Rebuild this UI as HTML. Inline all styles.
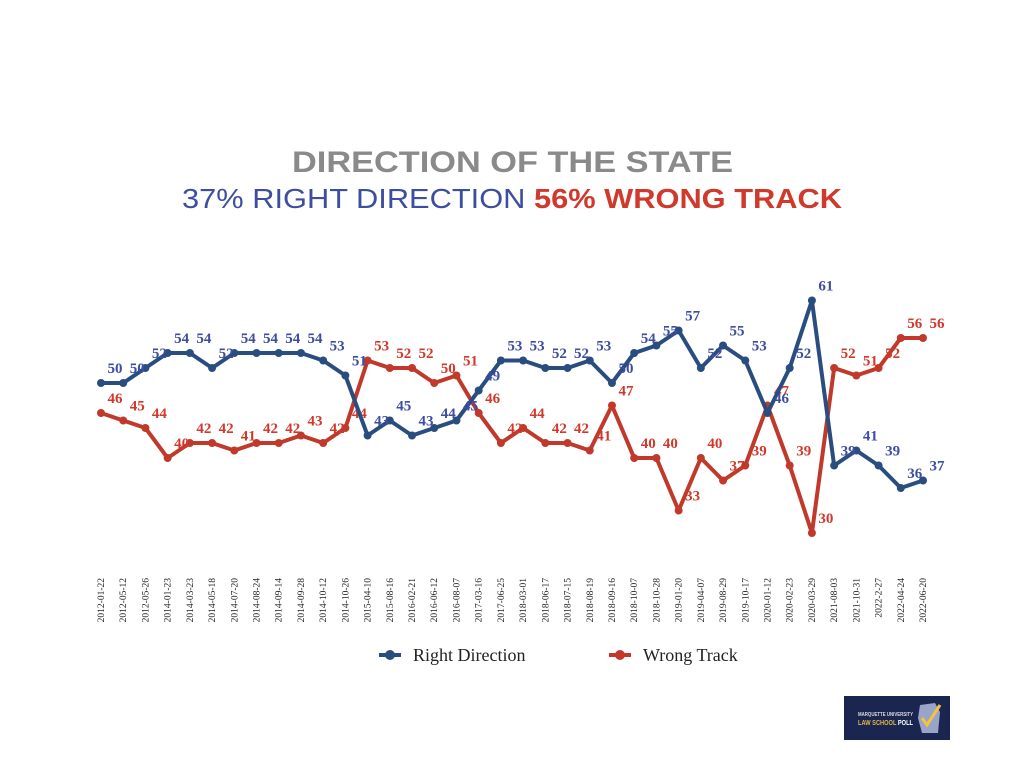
<!DOCTYPE html>
<html><head><meta charset="utf-8"><style>
body{margin:0;background:#fff;}
svg{display:block;}
</style></head><body>
<svg width="1024" height="768" xmlns="http://www.w3.org/2000/svg">
<text x="292" y="172" textLength="441" lengthAdjust="spacingAndGlyphs" font-family="Liberation Sans, sans-serif" font-weight="bold" font-size="30" fill="#8a8a8a">DIRECTION OF THE STATE</text>
<text x="182" y="208" textLength="660" lengthAdjust="spacingAndGlyphs" font-family="Liberation Sans, sans-serif" font-size="28"><tspan fill="#3d4da0">37% RIGHT DIRECTION </tspan><tspan fill="#d0392b" font-weight="bold">56% WRONG TRACK</tspan></text>
<g id="plot"></g>
<g>
<g>
<line x1="379" y1="655" x2="401" y2="655" stroke="#2a4d80" stroke-width="4"/><circle cx="390" cy="655" r="5" fill="#2a4d80"/>
<text x="413" y="661" font-family="Liberation Serif, serif" font-size="18" fill="#222">Right Direction</text></g>
<g>
<line x1="609" y1="655" x2="631" y2="655" stroke="#c0392b" stroke-width="4"/><circle cx="620" cy="655" r="5" fill="#c0392b"/>
<text x="643" y="661" font-family="Liberation Serif, serif" font-size="18" fill="#222">Wrong Track</text></g>
</g>
<g>
<rect x="844" y="696" width="106" height="44" fill="#1a2550"/>
<text x="858" y="716" textLength="55" lengthAdjust="spacingAndGlyphs" font-family="Liberation Sans, sans-serif" font-size="5" font-weight="bold" fill="#ddd">MARQUETTE UNIVERSITY</text>
<text x="858" y="725" textLength="55" lengthAdjust="spacingAndGlyphs" font-family="Liberation Sans, sans-serif" font-size="7" font-weight="bold" fill="#e0b84a">LAW SCHOOL <tspan fill="#fff">POLL</tspan></text>
<path d="M920 705 L935 703 L940 712 L938 733 L922 733 L918 718 Z" fill="#9aa3c8"/>
<path d="M922 718 L927 725 L940 705" stroke="#f2c53d" stroke-width="3" fill="none"/>
</g>
</svg>
<script>
const dates=["2012-01-22","2012-05-12","2012-05-26","2014-01-23","2014-03-23","2014-05-18","2014-07-20","2014-08-24","2014-09-14","2014-09-28","2014-10-12","2014-10-26","2015-04-10","2015-08-16","2016-02-21","2016-06-12","2016-08-07","2017-03-16","2017-06-25","2018-03-01","2018-06-17","2018-07-15","2018-08-19","2018-09-16","2018-10-07","2018-10-28","2019-01-20","2019-04-07","2019-08-29","2019-10-17","2020-01-12","2020-02-23","2020-03-29","2021-08-03","2021-10-31","2022-2-27","2022-04-24","2022-06-20"];
const rightDir=[50,50,52,54,54,52,54,54,54,54,53,51,43,45,43,44,45,49,53,53,52,52,53,50,54,55,57,52,55,53,46,52,61,39,41,39,36,37];
const wrongTrack=[46,45,44,40,42,42,41,42,42,43,42,44,53,52,52,50,51,46,42,44,42,42,41,47,40,40,33,40,37,39,47,39,30,52,51,52,56,56];
const NS="http://www.w3.org/2000/svg";
const g=document.getElementById('plot');
const xs=i=>101+i*(923-101)/(dates.length-1);
const ys=v=>383-(v-50)*7.5;
dates.forEach((d,i)=>{
  const t=document.createElementNS(NS,'text');
  
  
  t.setAttribute('transform',`translate(${xs(i)+3},578) rotate(-90)`);
  t.setAttribute('text-anchor','end');
  t.setAttribute('font-family','Liberation Serif, serif');
  t.setAttribute('font-size','9.5');
  t.setAttribute('fill','#222');
  t.textContent=d;g.appendChild(t);
});
function series(vals,line,lab,name){
  const p=document.createElementNS(NS,'polyline');
  
  
  p.setAttribute('points',vals.map((v,i)=>xs(i)+','+ys(v)).join(' '));
  p.setAttribute('fill','none');p.setAttribute('stroke',line);p.setAttribute('stroke-width','4');p.setAttribute('stroke-linejoin','round');
  g.appendChild(p);
  vals.forEach((v,i)=>{
    const c=document.createElementNS(NS,'circle');
    
    
    c.setAttribute('cx',xs(i));c.setAttribute('cy',ys(v));c.setAttribute('r','4');c.setAttribute('fill',line);
    g.appendChild(c);
  });
  vals.forEach((v,i)=>{
    const t=document.createElementNS(NS,'text');
    
    
    t.setAttribute('x',xs(i)+14);t.setAttribute('y',ys(v)-10);
    t.setAttribute('text-anchor','middle');
    t.setAttribute('font-family','Liberation Serif, serif');t.setAttribute('font-weight','bold');
    t.setAttribute('font-size','15');t.setAttribute('fill',lab);
    t.textContent=v;g.appendChild(t);
  });
}
series(wrongTrack,'#c0392b','#d0392b','wrong-track');
series(rightDir,'#2a4d80','#3d4da0','right-direction');
</script>
</body></html>
